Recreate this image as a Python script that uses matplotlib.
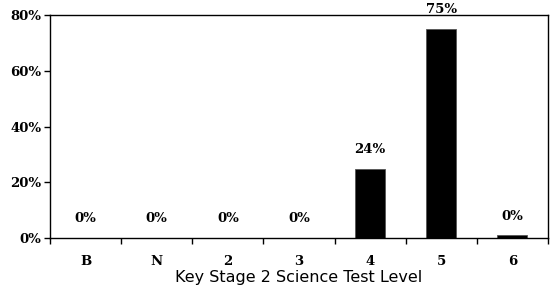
import matplotlib
matplotlib.use("Agg")
import matplotlib.pyplot as plt

categories = ["B", "N", "2", "3", "4", "5", "6"]
values = [0, 0, 0, 0, 24.8, 75.0, 1.0]
labels = ["0%", "0%", "0%", "0%", "24%", "75%", "0%"]

SERIF = ["DejaVu Serif"]
fig = plt.figure(figsize=(5.51, 2.87), dpi=100)
ax = fig.add_axes([50/551, 1-238/287, 498/551, 223/287])
x = list(range(len(categories)))
ax.bar(x, values, width=0.42, color="black", edgecolor="#555555", linewidth=0.6)
for xi, v, lab in zip(x, values, labels):
    ax.annotate(lab, (xi, v), xytext=(0, 9), textcoords="offset points",
                ha="center", va="bottom", fontsize=9.5, fontweight="bold",
                family=SERIF, annotation_clip=False)
ax.set_xlim(-0.5, len(categories) - 0.5)
ax.set_ylim(0, 80)
ax.set_yticks([0, 20, 40, 60, 80])
ax.set_yticklabels(["0%", "20%", "40%", "60%", "80%"], fontsize=9.5,
                   fontweight="bold", family=SERIF)
ax.set_xticks(x)
ax.set_xticklabels(categories, fontsize=9.5, fontweight="bold", family=SERIF)
ax.set_xticks([i + 0.5 for i in range(-1, len(categories))], minor=True)
ax.tick_params(axis="x", which="major", length=0, pad=12)
ax.tick_params(axis="x", which="minor", length=4, direction="out", width=1)
ax.tick_params(axis="y", length=4, direction="out", width=1, pad=2)
for s in ax.spines.values():
    s.set_linewidth(1)
ax.set_xlabel("Key Stage 2 Science Test Level", fontsize=11.5, family="DejaVu Sans", labelpad=2)
fig.savefig("out.png", dpi=100)
